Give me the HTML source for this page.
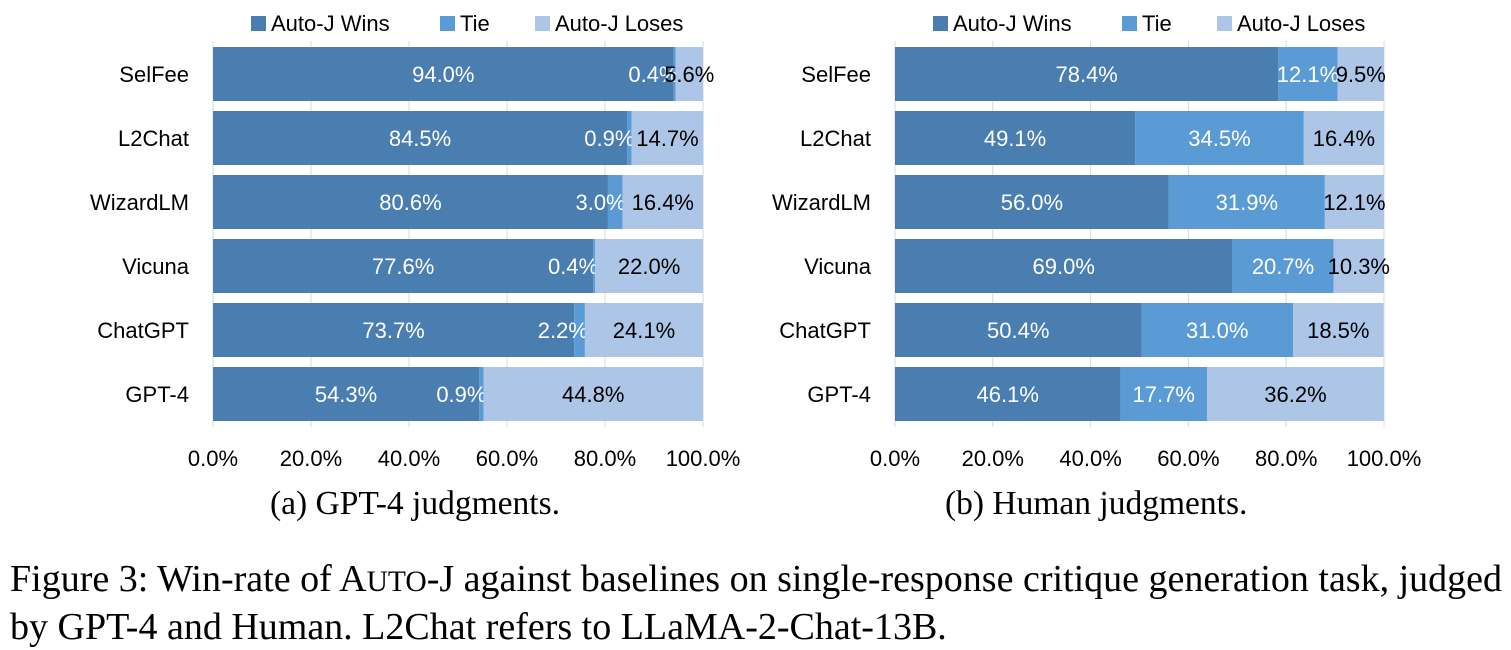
<!DOCTYPE html>
<html><head><meta charset="utf-8"><style>
body{margin:0;background:#fff;width:1511px;height:649px;overflow:hidden}
svg{position:absolute;left:0;top:0}
.cap{position:absolute;font-family:"Liberation Serif",serif;color:#000;white-space:nowrap}
</style></head><body>
<svg id="chart" width="1511" height="649"></svg>
<div class="cap" style="left:270px;top:485px;font-size:33.5px">(a) GPT-4 judgments.</div>
<div class="cap" style="left:945px;top:485px;font-size:33.5px">(b) Human judgments.</div>
<div class="cap" style="left:10px;top:557px;font-size:38px;line-height:45px">Figure 3: Win-rate of A<span style="font-size:29.5px">UTO</span>-J against baselines on single-response critique generation task, judged<br>by GPT-4 and Human. L2Chat refers to LLaMA-2-Chat-13B.</div>
<script>
const categories=["SelFee","L2Chat","WizardLM","Vicuna","ChatGPT","GPT-4"];
const seriesNames=["Auto-J Wins","Tie","Auto-J Loses"];
const gptWins=[94.0,84.5,80.6,77.6,73.7,54.3];
const gptTie=[0.4,0.9,3.0,0.4,2.2,0.9];
const gptLoses=[5.6,14.7,16.4,22.0,24.1,44.8];
const humWins=[78.4,49.1,56.0,69.0,50.4,46.1];
const humTie=[12.1,34.5,31.9,20.7,31.0,17.7];
const humLoses=[9.5,16.4,12.1,10.3,18.5,36.2];
const ticks=[0,20,40,60,80,100];
const colors=["#4a7eb0","#5b9bd5","#adc5e7"];
const NS="http://www.w3.org/2000/svg";
const svg=document.getElementById('chart');
const FS=22;
function mk(t,a,p){const e=document.createElementNS(NS,t);for(const k in a)e.setAttribute(k,a[k]);(p||svg).appendChild(e);return e;}
function panel(id,x0,x1,lx,series){
  const g=mk('g',{});
  
  
  const xs=v=>x0+(x1-x0)*v/100;
  const top=47,pitch=64,bh=54;
  ticks.forEach(t=>{
    const l=mk('line',{x1:xs(t),x2:xs(t),y1:41,y2:427,stroke:'#d9d9d9','stroke-width':1},g);
    
    
    const tx=mk('text',{x:xs(t),y:466,'text-anchor':'middle','font-size':FS,'font-family':'Liberation Sans, sans-serif'},g);
    tx.textContent=t.toFixed(1)+'%';
    
    
  });
  categories.forEach((c,i)=>{
    const y=top+i*pitch;
    const lab=mk('text',{x:x0-24,y:y+bh/2+8,'text-anchor':'end','font-size':FS,'font-family':'Liberation Sans, sans-serif'},g);
    lab.textContent=c;
    
    
    let acc=0;
    series.forEach((s,j)=>{
      const v=s[i];
      const r=mk('rect',{x:xs(acc),y:y,width:xs(acc+v)-xs(acc),height:bh,fill:colors[j]},g);
      
      
      const cx=xs(acc+v/2);
      const t=mk('text',{x:cx,y:y+bh/2+8,'text-anchor':'middle','font-size':FS,'font-family':'Liberation Sans, sans-serif',fill:j==2?'#000':'#fff'},g);
      t.textContent=v.toFixed(1)+'%';
      
      
      if(v<4){t.setAttribute('text-anchor','end');t.setAttribute('x',xs(acc+v)+(j==1?3:0));}
      acc+=v;
    });
  });
  let lxx=lx;
  seriesNames.forEach((n,j)=>{
    const r=mk('rect',{x:lxx,y:16,width:15,height:15,fill:colors[j]},g);
    
    
    const t=mk('text',{x:lxx+20,y:31,'font-size':FS,'font-family':'Liberation Sans, sans-serif'},g);
    t.textContent=n;
    
    
    lxx+=[189,95,0][j];
  });
}
panel('gpt4-panel',213,703,251,[gptWins,gptTie,gptLoses]);
panel('human-panel',895,1384,933,[humWins,humTie,humLoses]);
</script>
</body></html>
